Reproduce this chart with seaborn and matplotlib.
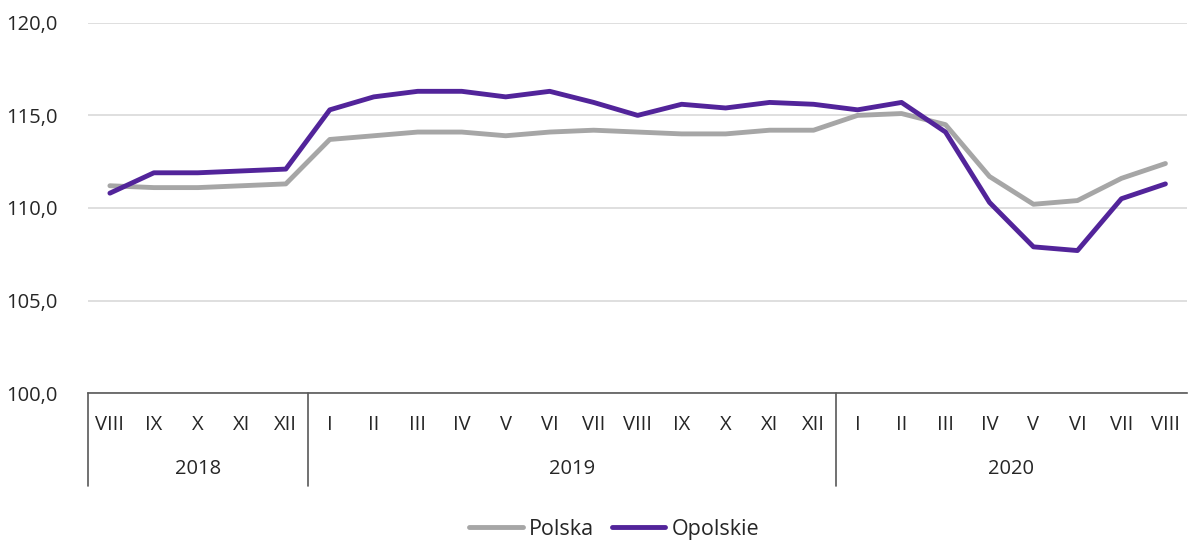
import pandas as pd
import numpy as np
import matplotlib.pyplot as plt
import seaborn as sns

months = ["VIII", "IX", "X", "XI", "XII",
          "I", "II", "III", "IV", "V", "VI", "VII", "VIII", "IX", "X", "XI", "XII",
          "I", "II", "III", "IV", "V", "VI", "VII", "VIII"]
years = ["2018", "2019", "2020"]
year_counts = [5, 12, 8]

polska = [111.2, 111.1, 111.1, 111.2, 111.3,
          113.7, 113.9, 114.1, 114.1, 113.9, 114.1, 114.2, 114.1, 114.0, 114.0, 114.2, 114.2,
          115.0, 115.1, 114.5, 111.7, 110.2, 110.4, 111.6, 112.4]
opolskie = [110.8, 111.9, 111.9, 112.0, 112.1,
            115.3, 116.0, 116.3, 116.3, 116.0, 116.3, 115.7, 115.0, 115.6, 115.4, 115.7, 115.6,
            115.3, 115.7, 114.1, 110.3, 107.9, 107.7, 110.5, 111.3]


def build_frame():
    idx = np.arange(len(months))
    df = pd.concat([
        pd.DataFrame({"pos": idx, "value": polska, "series": "Polska"}),
        pd.DataFrame({"pos": idx, "value": opolskie, "series": "Opolskie"}),
    ])
    return df


sns.set_style("white")
plt.rcParams["font.family"] = ["Open Sans", "DejaVu Sans"]

df = build_frame()
fig = plt.figure(figsize=(11.88, 5.43), dpi=100)
ax = fig.add_axes([0.074, 0.276, 0.9255, 0.682])

sns.lineplot(data=df, x="pos", y="value", hue="series",
             palette={"Polska": "#A6A6A6", "Opolskie": "#52249A"},
             linewidth=3.5, ax=ax, legend=False)

ax.set_xlim(-0.5, len(months) - 0.5)
ax.set_ylim(100, 120)
ax.set_yticks([100, 105, 110, 115, 120])
ax.set_yticklabels([f"{v:.1f}".replace(".", ",") for v in [100, 105, 110, 115, 120]], fontsize=14.5)
ax.yaxis.grid(True, color="#D9D9D9", linewidth=1.2)
ax.set_axisbelow(True)
for s in ["top", "right", "left"]:
    ax.spines[s].set_visible(False)
ax.spines["bottom"].set_color("#595959")
ax.spines["bottom"].set_linewidth(1.2)
ax.tick_params(axis="y", length=0, pad=22)
ax.set_xticks([])
ax.set_xlabel("")
ax.set_ylabel("")

# multi-level category axis
trans = ax.get_xaxis_transform()
for i, m in enumerate(months):
    ax.text(i, -0.087, m, transform=trans, ha="center", va="center", fontsize=14.5)
start = 0
for y, n in zip(years, year_counts):
    ax.text(start + (n - 1) / 2, -0.205, y, transform=trans, ha="center", va="center", fontsize=14.5)
    ax.plot([start - 0.5, start - 0.5], [0, -0.25], transform=trans, color="#595959",
            linewidth=1.2, clip_on=False)
    start += n

# legend
handles = [plt.Line2D([], [], color="#A6A6A6", lw=3.5),
           plt.Line2D([], [], color="#52249A", lw=3.5)]
fig.legend(handles, ["Polska", "Opolskie"], loc="center", bbox_to_anchor=(0.517, 0.025),
           ncol=2, frameon=False, fontsize=15.5, handlelength=2.5, handletextpad=0.3,
           columnspacing=0.8)

fig.savefig("out.png", dpi=100)
